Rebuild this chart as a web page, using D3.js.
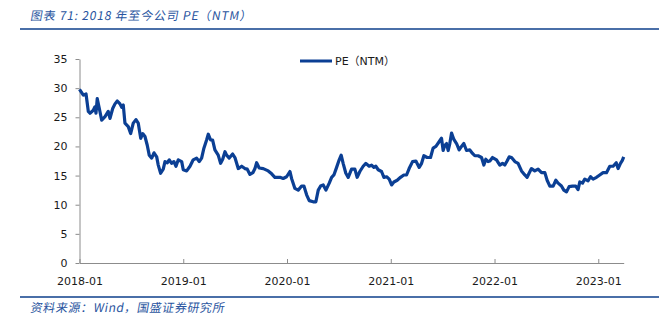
<!DOCTYPE html>
<html>
<head>
<meta charset="utf-8">
<script src="https://cdn.jsdelivr.net/npm/d3@7"></script>
<style>
  body { margin: 0; background: #fff; }
  svg { display: block; }
  .tick text { font-family: "DejaVu Sans", Verdana, sans-serif; }
</style>
</head>
<body>
<div id="chart"></div>
<script>
// chart data (time as decimal year, PE values)
const years = [
  2018.000, 2018.037, 2018.063, 2018.085, 2018.101, 2018.133, 2018.149, 2018.159, 2018.171, 2018.191,
  2018.214, 2018.246, 2018.277, 2018.294, 2018.320, 2018.342, 2018.364, 2018.390, 2018.407, 2018.422,
  2018.438, 2018.470, 2018.493, 2018.518, 2018.544, 2018.566, 2018.590, 2018.609, 2018.631, 2018.653,
  2018.672, 2018.696, 2018.718, 2018.744, 2018.759, 2018.782, 2018.807, 2018.824, 2018.846, 2018.865,
  2018.888, 2018.910, 2018.930, 2018.952, 2018.985, 2019.000, 2019.033, 2019.065, 2019.096, 2019.129,
  2019.154, 2019.177, 2019.199, 2019.225, 2019.241, 2019.264, 2019.283, 2019.305, 2019.337, 2019.360,
  2019.380, 2019.402, 2019.418, 2019.443, 2019.476, 2019.498, 2019.530, 2019.563, 2019.594, 2019.617,
  2019.643, 2019.671, 2019.691, 2019.707, 2019.732, 2019.771, 2019.819, 2019.852, 2019.883, 2019.932,
  2019.963, 2019.996, 2020.028, 2020.044, 2020.076, 2020.108, 2020.141, 2020.163, 2020.189, 2020.214,
  2020.252, 2020.278, 2020.301, 2020.324, 2020.349, 2020.375, 2020.407, 2020.430, 2020.452, 2020.478,
  2020.503, 2020.522, 2020.541, 2020.567, 2020.590, 2020.622, 2020.654, 2020.676, 2020.702, 2020.734,
  2020.760, 2020.792, 2020.815, 2020.837, 2020.856, 2020.879, 2020.911, 2020.934, 2020.960, 2020.985,
  2021.008, 2021.030, 2021.062, 2021.094, 2021.126, 2021.152, 2021.177, 2021.210, 2021.242, 2021.274,
  2021.297, 2021.319, 2021.351, 2021.383, 2021.408, 2021.435, 2021.466, 2021.489, 2021.505, 2021.521,
  2021.538, 2021.553, 2021.569, 2021.586, 2021.608, 2021.634, 2021.659, 2021.682, 2021.704, 2021.730,
  2021.762, 2021.788, 2021.810, 2021.842, 2021.875, 2021.897, 2021.916, 2021.938, 2021.955, 2021.981,
  2022.019, 2022.051, 2022.077, 2022.099, 2022.121, 2022.141, 2022.164, 2022.196, 2022.227, 2022.260,
  2022.292, 2022.314, 2022.333, 2022.356, 2022.388, 2022.420, 2022.453, 2022.485, 2022.507, 2022.533,
  2022.565, 2022.591, 2022.613, 2022.645, 2022.668, 2022.694, 2022.719, 2022.751, 2022.783, 2022.805,
  2022.822, 2022.848, 2022.870, 2022.902, 2022.925, 2022.950, 2022.983, 2023.014, 2023.046, 2023.079,
  2023.111, 2023.143, 2023.173, 2023.191, 2023.214, 2023.232, 2023.245
];
const peValues = [
  29.8, 28.8, 29.0, 26.0, 25.7, 26.2, 26.8, 25.7, 28.2, 26.5,
  24.5, 25.1, 26.0, 24.8, 26.5, 27.3, 27.8, 27.3, 26.7, 27.1,
  24.0, 23.4, 22.2, 24.0, 24.6, 24.0, 21.4, 22.2, 21.7, 20.2,
  18.5, 18.0, 18.9, 18.2, 16.8, 15.4, 16.1, 17.4, 17.2, 17.7,
  17.1, 17.4, 16.6, 17.7, 17.4, 16.0, 15.8, 16.6, 17.7, 18.0,
  17.4, 18.0, 19.7, 21.1, 22.1, 21.1, 21.1, 19.4, 18.5, 17.1,
  17.8, 19.1, 18.5, 18.0, 18.7, 18.1, 16.2, 16.6, 16.2, 16.1,
  15.2, 15.5, 16.2, 17.2, 16.3, 16.2, 15.8, 15.3, 14.7, 14.7,
  14.5, 14.8, 15.7, 14.5, 12.8, 12.5, 13.2, 13.2, 11.7, 10.7,
  10.5, 10.5, 12.5, 13.2, 13.4, 12.5, 13.7, 14.7, 15.1, 16.4,
  17.7, 18.5, 17.1, 15.4, 14.7, 16.1, 16.1, 14.7, 15.7, 16.6,
  17.1, 16.6, 16.8, 16.4, 16.6, 16.0, 15.7, 14.7, 14.8, 14.4,
  13.4, 13.9, 14.2, 14.7, 15.1, 15.1, 16.2, 17.4, 17.5, 16.4,
  17.1, 18.4, 18.1, 18.1, 19.7, 20.0, 20.8, 21.4, 19.3, 20.2,
  20.5, 19.3, 20.5, 22.3, 21.2, 20.5, 19.4, 20.0, 20.5, 19.3,
  19.4, 18.8, 18.4, 18.4, 18.1, 16.8, 17.8, 17.4, 17.5, 18.1,
  17.7, 16.8, 17.1, 16.8, 17.5, 18.2, 18.1, 17.4, 17.1, 15.8,
  15.1, 14.7, 15.4, 16.2, 15.8, 16.1, 15.5, 15.5, 14.2, 13.2,
  13.2, 14.2, 13.7, 13.2, 12.5, 12.2, 13.1, 13.2, 13.2, 12.6,
  13.9, 13.7, 14.4, 14.1, 14.8, 14.4, 14.7, 15.1, 15.5, 15.5,
  16.6, 16.6, 17.2, 16.2, 17.1, 17.6, 18.2
];
const xTickValues = [2018, 2019, 2020, 2021, 2022, 2023];
const xTickLabels = ["2018-01", "2019-01", "2020-01", "2021-01", "2022-01", "2023-01"];
const yTickValues = [0, 5, 10, 15, 20, 25, 30, 35];
const seriesName = "PE（NTM）";
const titleText = "图表 71:  2018 年至今公司 PE（NTM）";
const sourceText = "资料来源：Wind，国盛证券研究所";

const width = 659, height = 326;
const lineColor = "#0b3f94";
const brandBlue = "#2a55a0";

const svg = d3.select("#chart").append("svg")
    .attr("width", width)
    .attr("height", height);

svg.append("rect").attr("width", width).attr("height", height).attr("fill", "#fff");

// title + rules
svg.append("text")
    .attr("x", 30).attr("y", 20)
    .attr("font-family", "'Noto Sans CJK SC', 'DejaVu Sans', sans-serif")
    .attr("font-size", 12)
    .attr("letter-spacing", 0.8)
    .attr("fill", brandBlue)
    .attr("transform", "skewX(-10) translate(3.5,0)")
    .text(titleText);

svg.append("line")
    .attr("x1", 20).attr("x2", width).attr("y1", 29).attr("y2", 29)
    .attr("stroke", "#4a6fa8").attr("stroke-width", 2);

svg.append("line")
    .attr("x1", 20).attr("x2", width).attr("y1", 297).attr("y2", 297)
    .attr("stroke", "#4a6fa8").attr("stroke-width", 2);

svg.append("text")
    .attr("x", 30).attr("y", 312)
    .attr("font-family", "'Noto Sans CJK SC', 'DejaVu Sans', sans-serif")
    .attr("font-size", 12)
    .attr("letter-spacing", 0.6)
    .attr("fill", brandBlue)
    .attr("transform", "skewX(-10) translate(55,0)")
    .text(sourceText);

// scales
const x = d3.scaleLinear()
    .domain([years[0], years[years.length - 1]])
    .range([79.5, 623.7]);

const y = d3.scaleLinear()
    .domain([0, 35])
    .range([263, 59]);

// y axis
const yAxis = svg.append("g")
    .attr("transform", "translate(79.5,0)")
    .call(d3.axisLeft(y).tickValues(yTickValues).tickSize(4).tickPadding(8).tickSizeOuter(0));
yAxis.select(".domain").attr("stroke", "#8c8c8c");
yAxis.selectAll(".tick line").attr("stroke", "#8c8c8c");
yAxis.selectAll(".tick text").attr("font-size", 11).attr("fill", "#1a1a1a");

// x axis (ticks point up)
const xAxis = svg.append("g")
    .attr("transform", "translate(0,263)")
    .call(d3.axisBottom(x)
        .tickValues(xTickValues)
        .tickFormat((d, i) => xTickLabels[i])
        .tickSize(-4).tickPadding(14).tickSizeOuter(0));
xAxis.select(".domain").attr("stroke", "#8c8c8c");
xAxis.selectAll(".tick line").attr("stroke", "#8c8c8c");
xAxis.selectAll(".tick text").attr("font-size", 11).attr("fill", "#1a1a1a");

// line
const points = years.map((t, i) => ({ t: t, v: peValues[i] }));
const lineGen = d3.line()
    .x(d => x(d.t))
    .y(d => y(d.v));

svg.append("path")
    .datum(points)
    .attr("d", lineGen)
    .attr("fill", "none")
    .attr("stroke", lineColor)
    .attr("stroke-width", 3.2)
    .attr("stroke-linejoin", "round");

// legend
const legend = svg.append("g").attr("transform", "translate(300,61)");
legend.append("line")
    .attr("x1", 0).attr("x2", 32)
    .attr("stroke", lineColor).attr("stroke-width", 3);
const legendText = legend.append("text")
    .attr("x", 35).attr("dy", "0.35em")
    .attr("font-size", 11)
    .attr("fill", "#1a1a1a");
// latin in DejaVu, full-width brackets in the CJK font
seriesName.split(/([（）])/).filter(s => s).forEach(part => {
    legendText.append("tspan")
        .attr("font-family", /[（）]/.test(part) ? "'Noto Sans CJK SC'" : "'DejaVu Sans'")
        .text(part);
});
</script>
</body>
</html>
